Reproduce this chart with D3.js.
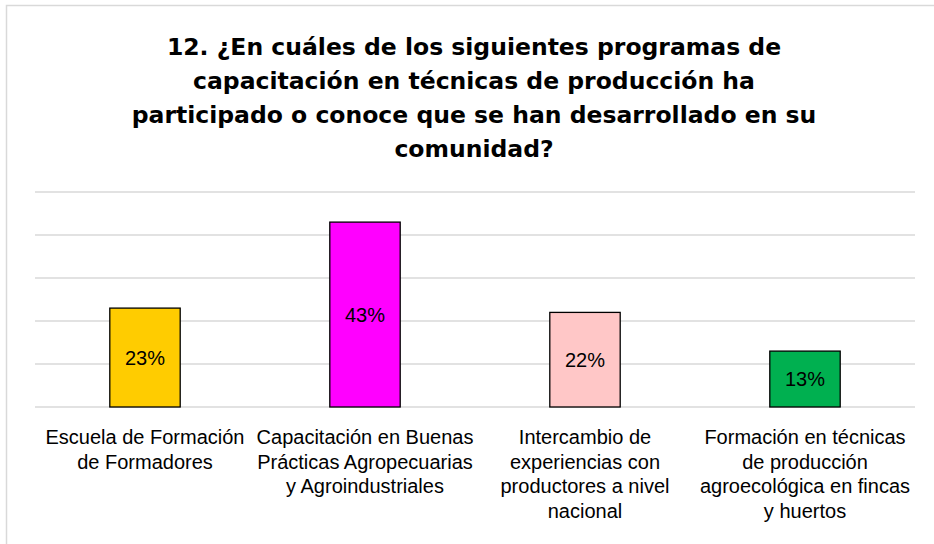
<!DOCTYPE html>
<html>
<head>
<meta charset="utf-8">
<script src="https://cdn.jsdelivr.net/npm/d3@7"></script>
<style>
    body { margin: 0; background: #fff; }
    svg { display: block; }
</style>
</head>
<body>
<div id="chart"></div>
<script>
/**
 * Data.
 */
const titleLines = [
    '12. ¿En cuáles de los siguientes programas de',
    'capacitación en técnicas de producción ha',
    'participado o conoce que se han desarrollado en su',
    'comunidad?'
];
const categories = [
    ['Escuela de Formación', 'de Formadores'],
    ['Capacitación en Buenas', 'Prácticas Agropecuarias', 'y Agroindustriales'],
    ['Intercambio de', 'experiencias con', 'productores a nivel', 'nacional'],
    ['Formación en técnicas', 'de producción', 'agroecológica en fincas', 'y huertos']
];
const values = [23, 43, 22, 13];
const barColors = ['#ffcc00', '#ff00ff', '#ffc7c7', '#00b050'];
const gridTicks = [0, 10, 20, 30, 40, 50];

/**
 * Visual configs.
 */
const visWidth = 934, visHeight = 544,
    margin = { top: 192, right: 19, bottom: 137, left: 35 },
    width = visWidth - margin.left - margin.right,
    height = visHeight - margin.top - margin.bottom;

const svg = d3.select('#chart').append('svg')
    .attr('width', visWidth)
    .attr('height', visHeight);

// Chart area border
svg.append('rect')
    .attr('x', 6.5).attr('y', 5.5)
    .attr('width', 940).attr('height', 560)
    .style('fill', 'none')
    .style('stroke', '#d9d9d9')
    .style('stroke-width', 1.5);

// Title
svg.append('g').attr('class', 'title')
    .selectAll('text').data(titleLines)
    .enter().append('text')
        .attr('x', visWidth / 2 + 7)
        .attr('y', (d, i) => 55 + i * 34)
        .attr('text-anchor', 'middle')
        .style('font-family', '"DejaVu Sans", sans-serif')
        .style('font-weight', 'bold')
        .style('font-size', '23.5px')
        .style('fill', '#000')
        .text(d => d);

const x = d3.scaleBand()
    .domain(d3.range(values.length))
    .range([0, width])
    .paddingInner(0.68)
    .paddingOuter(0.34);

const y = d3.scaleLinear().domain([0, 50]).range([height, 0]);

const g = svg.append('g')
    .attr('transform', 'translate(' + margin.left + ',' + margin.top + ')');

// Gridlines
g.append('g').attr('class', 'grid')
    .selectAll('line').data(gridTicks)
    .enter().append('line')
        .attr('x1', 0).attr('x2', width)
        .attr('y1', d => y(d)).attr('y2', d => y(d))
        .style('stroke', '#d9d9d9')
        .style('stroke-width', 1.5);

// Bars
g.append('g').attr('class', 'bars')
    .selectAll('rect').data(values)
    .enter().append('rect')
        .attr('x', (d, i) => x(i))
        .attr('y', d => y(d))
        .attr('width', x.bandwidth())
        .attr('height', d => height - y(d))
        .style('fill', (d, i) => barColors[i])
        .style('stroke', '#000')
        .style('stroke-width', 1.3);

// Value labels
g.append('g').attr('class', 'labels')
    .selectAll('text').data(values)
    .enter().append('text')
        .attr('x', (d, i) => x(i) + x.bandwidth() / 2)
        .attr('y', d => (y(d) + height) / 2)
        .attr('dy', '0.35em')
        .attr('text-anchor', 'middle')
        .style('font-family', '"Liberation Sans Narrow", "Liberation Sans", sans-serif')
        .style('font-size', '20px')
        .style('fill', '#000')
        .text(d => d + '%');

// Category labels
const cats = g.append('g').attr('class', 'categories')
    .selectAll('text').data(categories)
    .enter().append('text')
        .attr('x', (d, i) => x(i) + x.bandwidth() / 2)
        .attr('y', height + 37)
        .attr('text-anchor', 'middle')
        .style('font-family', '"Liberation Sans Narrow", "Liberation Sans", sans-serif')
        .style('font-size', '20px')
        .style('fill', '#000');

cats.selectAll('tspan').data(d => d)
    .enter().append('tspan')
        .attr('x', function() { return d3.select(this.parentNode).attr('x'); })
        .attr('dy', (d, i) => i ? 24.5 : 0)
        .text(d => d);
</script>
</body>
</html>
